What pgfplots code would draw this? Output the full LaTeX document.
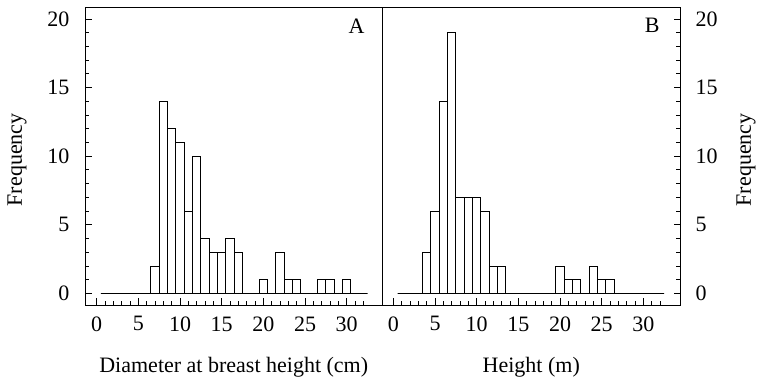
\documentclass[border=0pt]{standalone}
\usepackage{pgfplots}
\usepackage{pgfplotstable}
\pgfplotsset{compat=1.18}
\usepackage{fontspec}
\setmainfont{Liberation Serif}

\pgfplotstableread{
bin a b
1 0 0
2 0 0
3 0 0
4 0 3
5 0 6
6 0 14
7 2 19
8 14 7
9 12 7
10 11 7
11 6 6
12 10 2
13 4 2
14 3 0
15 3 0
16 4 0
17 3 0
18 0 0
19 0 0
20 1 2
21 0 1
22 3 1
23 1 0
24 1 2
25 0 1
26 0 1
27 1 0
28 1 0
29 0 0
30 1 0
31 0 0
32 0 0
}\histdata

\begin{document}
\begin{tikzpicture}
\path[use as bounding box] (0,0) rectangle (757bp,385bp);
\pgfplotsset{
  hist/.style={
    scale only axis, width=297.5bp, height=298bp,
    ymin=-0.853, ymax=20.87,
    xtick={0,5,...,30}, minor xtick={0,...,32},
    ytick={0,5,...,20}, minor ytick={0,...,20},
    tick align=inside,
    major tick length=6.5bp, minor tick length=4bp,
    axis line style={line width=0.8bp},
    every tick/.style={black, line width=0.7bp},
    tick label style={font=\fontsize{22bp}{24bp}\selectfont},
    label style={font=\fontsize{22bp}{24bp}\selectfont},
    /pgf/number format/assume math mode=true,
    xticklabel shift=8bp,
    yticklabel shift=12bp,
    clip=false,
  },
  histbar/.style={ybar, bar width=1, fill=white, draw=black, line width=0.7bp},
}
\begin{axis}[hist, at={(85bp,80bp)}, anchor=south west,
  xmin=-1.4, xmax=34.3, xtick pos=bottom, ytick pos=left,
  ylabel={Frequency},
  ylabel style={at={(axis description cs:-0.2286,0.487)}, anchor=center},
  xlabel={Diameter at breast height (cm)},
  xlabel style={at={(axis description cs:0.5,-0.228)}, anchor=base}]
\addplot[histbar] table[x=bin, y=a] {\histdata};
\node[font=\fontsize{22bp}{24bp}\selectfont] at (axis cs:31.2,19.5) {A};
\end{axis}
\begin{axis}[hist, at={(382.5bp,80bp)}, anchor=south west,
  xmin=-1.3, xmax=34.4, xtick pos=bottom, ytick pos=right,
  ylabel={Frequency},
  ylabel style={at={(axis description cs:1.222,0.487)}, anchor=center},
  xlabel={Height (m)},
  xlabel style={at={(axis description cs:0.5,-0.228)}, anchor=base}]
\addplot[histbar] table[x=bin, y=b] {\histdata};
\node[font=\fontsize{22bp}{24bp}\selectfont] at (axis cs:31.06,19.55) {B};
\end{axis}
\end{tikzpicture}
\end{document}
